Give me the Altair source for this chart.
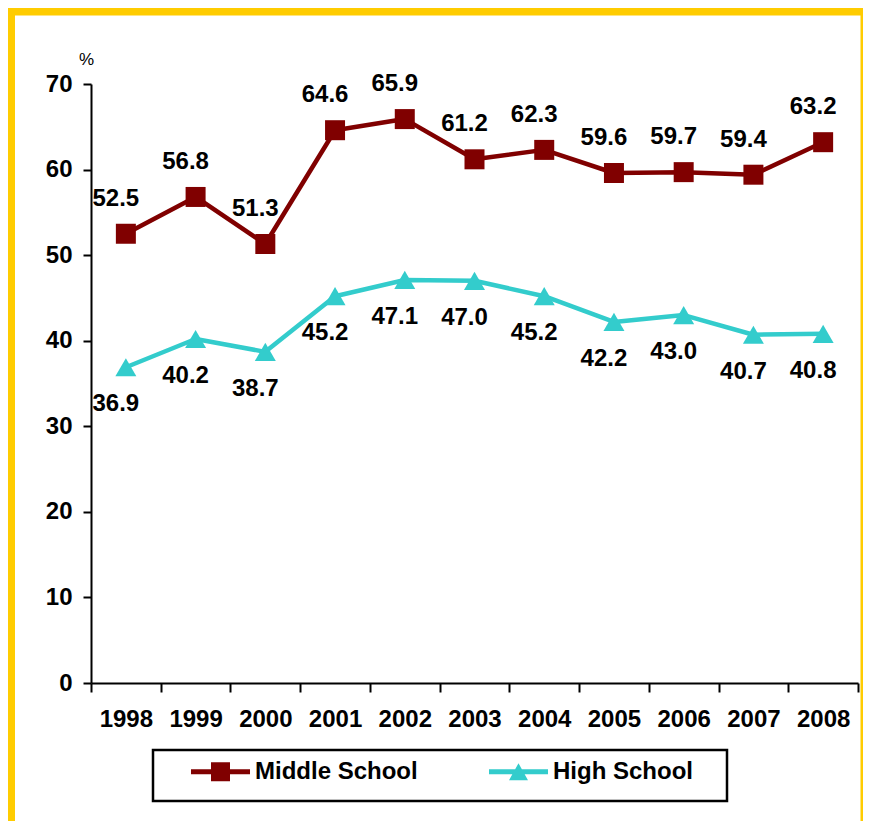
import altair as alt
import pandas as pd

# ---- data ----
years = ["1998", "1999", "2000", "2001", "2002", "2003", "2004", "2005", "2006", "2007", "2008"]
middle_school = [52.5, 56.8, 51.3, 64.6, 65.9, 61.2, 62.3, 59.6, 59.7, 59.4, 63.2]
high_school = [36.9, 40.2, 38.7, 45.2, 47.1, 47.0, 45.2, 42.2, 43.0, 40.7, 40.8]
series_names = ["Middle School", "High School"]
series_colors = ["#800000", "#33CCCC"]
y_ticks = [0, 10, 20, 30, 40, 50, 60, 70]

FONT = "Arial, Liberation Sans, sans-serif"
FS = 24

rows = []
for s, vals in zip(series_names, [middle_school, high_school]):
    for yr, v in zip(years, vals):
        rows.append({"year": yr, "value": v, "series": s})
df = pd.DataFrame(rows)

W, H = 767, 599

x_enc = alt.X("year:N", sort=years,
              scale=alt.Scale(paddingInner=0, paddingOuter=0),
              axis=alt.Axis(title=None, tickBand="extent", labelAngle=0,
                            labelFont=FONT, labelFontSize=FS, labelFontWeight="bold",
                            labelColor="black", labelPadding=15,
                            domainColor="black", domainWidth=2,
                            tickColor="black", tickWidth=2, tickSize=9))
y_enc = alt.Y("value:Q",
              scale=alt.Scale(domain=[0, 70], nice=False, zero=True),
              axis=alt.Axis(title="%", values=y_ticks, grid=False,
                            titleAngle=0, titleX=-5, titleY=-20,
                            titleAlign="center", titleBaseline="alphabetic",
                            titleFont=FONT, titleFontSize=17, titleFontWeight="normal",
                            titleColor="black",
                            labelFont=FONT, labelFontSize=FS, labelFontWeight="bold",
                            labelColor="black", labelPadding=11,
                            domainColor="black", domainWidth=2,
                            tickColor="black", tickWidth=2, tickSize=8))
color_scale = alt.Scale(domain=series_names, range=series_colors)
color_enc = alt.Color("series:N", scale=color_scale, legend=None)

base = alt.Chart(df)

lines = base.mark_line(strokeWidth=4.5, strokeJoin="round", strokeCap="round").encode(
    x=x_enc, y=y_enc, color=color_enc, detail="series:N")

points = base.mark_point(filled=True, opacity=1).encode(
    x=x_enc, y=y_enc, color=color_enc,
    shape=alt.Shape("series:N",
                    scale=alt.Scale(domain=series_names, range=["square", "triangle-up"]),
                    legend=None),
    size=alt.Size("series:N",
                  scale=alt.Scale(domain=series_names, range=[400, 441]),
                  legend=None),
)

labels_mid = base.transform_filter(alt.datum.series == "Middle School").mark_text(
    font=FONT, fontSize=FS, fontWeight="bold", color="black",
    baseline="middle", align="center", dy=-35, dx=-10
).encode(x=x_enc, y=y_enc, text=alt.Text("value:Q", format=".1f"))

labels_high = base.transform_filter(alt.datum.series == "High School").mark_text(
    font=FONT, fontSize=FS, fontWeight="bold", color="black",
    baseline="middle", align="center", dy=37, dx=-10
).encode(x=x_enc, y=y_enc, text=alt.Text("value:Q", format=".1f"))

sym_mid = "M-1,-0.085H1V0.085H-1Z M-0.322,-0.322H0.322V0.322H-0.322Z"
sym_high = "M-1,-0.085H1V0.085H-1Z M0,-0.288L0.322,0.288H-0.322Z"


def make_legend():
    return alt.Legend(title=None, orient="none", direction="horizontal",
                      columns=2, legendX=100, legendY=658,
                      symbolSize=3481, symbolOpacity=1,
                      symbolStrokeWidth=0, padding=0,
                      labelFont=FONT, labelFontSize=FS,
                      labelFontWeight="bold", labelColor="black",
                      labelOffset=5, columnPadding=71, labelLimit=400)


legend_layer = base.transform_filter("false").mark_point(filled=True, opacity=1).encode(
    color=alt.Color("series:N", scale=color_scale, legend=make_legend()),
    shape=alt.Shape("series:N",
                    scale=alt.Scale(domain=series_names, range=[sym_mid, sym_high]),
                    legend=make_legend()),
)

deco = pd.DataFrame({"k": [0]})
legend_box = alt.Chart(deco).mark_rect(filled=False, stroke="black", strokeWidth=2.5).encode(
    x=alt.value(62), x2=alt.value(636), y=alt.value(666), y2=alt.value(717))
frame = alt.Chart(deco).mark_rect(filled=False, stroke="#FFCC00", strokeWidth=8).encode(
    x=alt.value(-80), x2=alt.value(773.5), y=alt.value(-72.5), y2=alt.value(790))

chart = alt.layer(frame, legend_box, lines, points, labels_mid, labels_high, legend_layer).resolve_scale(
    shape="independent", size="independent", color="independent"
).properties(
    width=W, height=H,
    autosize=alt.AutoSizeParams(type="none"),
    padding={"left": 83, "top": 76, "right": 5, "bottom": 138},
    background="white",
).configure_view(stroke=None)

chart.save("out.html", embed_options={"renderer": "svg", "actions": False})
